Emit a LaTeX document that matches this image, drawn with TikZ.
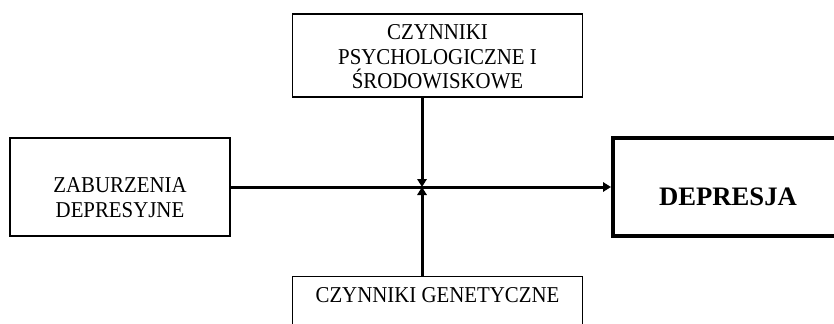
\documentclass[tikz,border=0pt]{standalone}
\usepackage{fontspec}
\setmainfont{Liberation Serif}[FakeStretch=0.92]
\newfontfamily\plainserif{Liberation Serif}
\usetikzlibrary{arrows.meta}
\usetikzlibrary{calc}

\tikzset{
  factorbox/.style={draw, line width=1.1pt, align=center, inner sep=0pt, font=\fontsize{17}{18.4}\selectfont},
  resultbox/.style={draw, line width=3pt, align=center, inner sep=0pt, font=\plainserif\bfseries\fontsize{20}{24}\selectfont},
  linkarrow/.style={line width=2.25pt, -{Triangle[length=6pt,width=7pt]}},
}

\begin{document}
\begin{tikzpicture}[x=0.75pt,y=0.75pt,yscale=-1,xscale=1]
\useasboundingbox (0,0) rectangle (834,324);
% Text Node
\node (psych) [factorbox, minimum width=217.5pt, minimum height=62.25pt, text height=54pt, text depth=3.75pt] at (437.5,55.5) {CZYNNIKI\\PSYCHOLOGICZNE I\\ŚRODOWISKOWE};
% Text Node
\node (zab) [factorbox, minimum width=165pt, minimum height=73.5pt, text height=50pt, text depth=5pt] at (120,187) {ZABURZENIA\\DEPRESYJNE};
% Text Node
\node (depr) [resultbox, minimum width=172.5pt, minimum height=73.5pt, text height=30pt, text depth=3pt] at (728,187) {DEPRESJA};
% Text Node
\node (genet) [factorbox, anchor=north, minimum width=217.5pt, text height=19.5pt, text depth=40pt] at (437.5,276) {CZYNNIKI GENETYCZNE};
%Straight Lines
\coordinate (junction) at (422,187);
\draw [linkarrow] (zab.east) -- (depr.west);
\draw [linkarrow] (psych.south -| junction) -- (junction);
\draw [linkarrow] (genet.north -| junction) -- (junction);
\end{tikzpicture}
\end{document}
